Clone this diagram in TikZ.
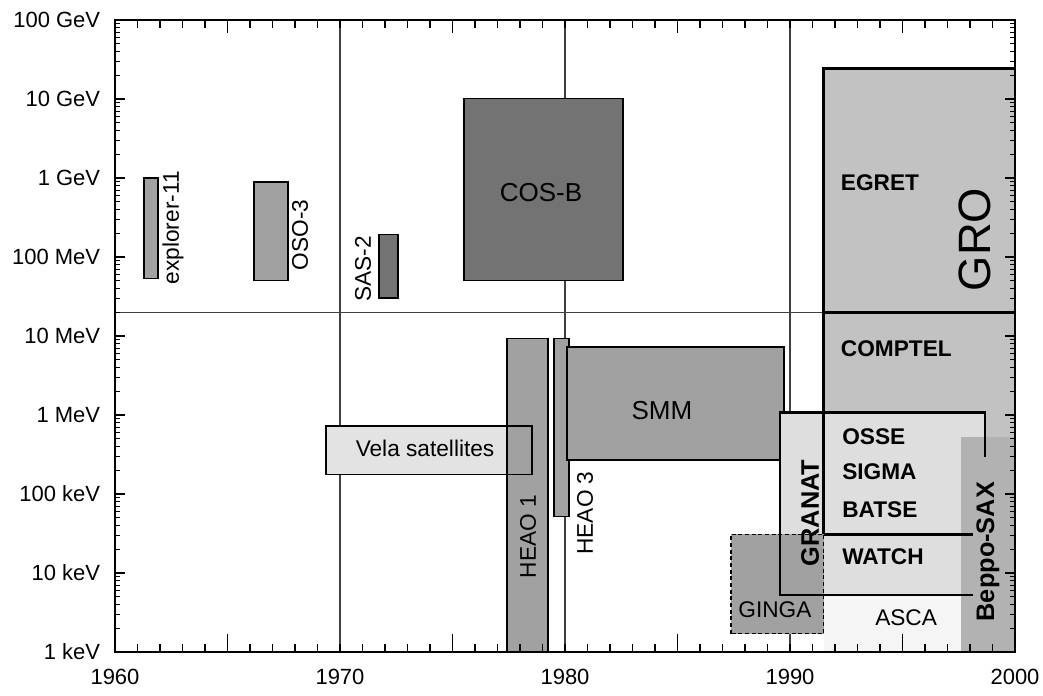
\documentclass[tikz,border=0pt]{standalone}
\usepackage{fontspec}
\setmainfont{Liberation Sans}
\usepackage{tikz}

\definecolor{dark}{gray}{0.45}
\definecolor{mid}{gray}{0.63}
\definecolor{gro}{gray}{0.76}
\definecolor{sax}{gray}{0.70}
\definecolor{pale}{gray}{0.87}
\definecolor{vela}{gray}{0.89}
\definecolor{asca}{gray}{0.96}
\definecolor{gridgray}{gray}{0.25}

\begin{document}
\begin{tikzpicture}[x=16.875pt,y=59.25pt,
  box/.style={draw=black,line width=0.9pt},
  heavy/.style={draw=black,line width=2pt},
  ticklab/.style={font=\fontsize{16.5}{18}\selectfont},
  missname/.style={font=\fontsize{17}{19}\selectfont},
  bigmiss/.style={font=\fontsize{19.5}{21}\selectfont},
  boldmiss/.style={font=\fontsize{19}{21}\selectfont\bfseries,rotate=90},
  instr/.style={font=\fontsize{17}{19}\selectfont\bfseries,anchor=west,inner sep=0pt}]
\useasboundingbox (-5.111,-0.557) rectangle (41.244,8.253);

\coordinate (o) at (0,0);
\coordinate (tl) at (0,8);
\coordinate (br) at (40,0);
\coordinate (tr) at (40,8);

% mission boxes
\coordinate (exp1) at (1.29,4.73);   \coordinate (exp2) at (1.91,6.0);
\coordinate (oso1) at (6.18,4.70);   \coordinate (oso2) at (7.69,5.95);
\coordinate (sas1) at (11.73,4.48);  \coordinate (sas2) at (12.58,5.28);
\coordinate (cos1) at (15.51,4.70);  \coordinate (cos2) at (22.58,7.01);
\coordinate (vela1) at (9.38,2.25);  \coordinate (vela2) at (18.53,2.86);
\coordinate (hea1) at (17.42,0);     \coordinate (hea2) at (19.24,3.97);
\coordinate (heb1) at (19.51,1.71);  \coordinate (heb2) at (20.18,3.97);
\coordinate (smm1) at (20.09,2.43);  \coordinate (smm2) at (29.73,3.86);
\coordinate (gro1) at (31.5,0);      \coordinate (gro2) at (40,7.39);
\coordinate (gra1) at (29.56,0.72);  \coordinate (gra2) at (38.67,3.03);
\coordinate (gin1) at (27.38,0.23);  \coordinate (gin2) at (31.5,1.49);
\coordinate (sax1) at (37.6,0);      \coordinate (sax2) at (40,2.72);
\coordinate (asc1) at (31.5,0);      \coordinate (asc2) at (37.6,0.72);

% grid
\foreach \t in {10,20,30}
\draw[gridgray,line width=0.9pt] (\t,0)--(\t,8);
\draw[gridgray,line width=0.9pt] (0,4.30)--(40,4.30);

\fill[gro] (gro1) rectangle (gro2);
\draw[box,fill=mid] (exp1) rectangle (exp2);
\draw[box,fill=mid] (oso1) rectangle (oso2);
\draw[box,fill=dark] (sas1) rectangle (sas2);
\draw[box,fill=dark] (cos1) rectangle (cos2);
\fill[vela] (vela1) rectangle (vela2);
\draw[box,fill=mid] (hea1) rectangle (hea2);
\draw[box] (vela1) rectangle (vela2);
\draw[box,fill=mid] (heb1) rectangle (heb2);
\draw[box,fill=mid] (smm1) rectangle (smm2);
\fill[pale] (gra1) rectangle (gra2);
\fill[asca] (asc1) rectangle (asc2);
\fill[mid] (gin1) rectangle (gin2);
\fill[sax] (sax1) rectangle (sax2);

% GRO and GRANAT outlines
\draw[heavy] (31.5,1.49)--(31.5,7.39)--(40,7.39);
\draw[heavy] (31.5,4.30)--(40,4.30);
\draw[heavy] (38.13,0.72)--(29.56,0.72)--(29.56,3.03)--(38.67,3.03)--(38.67,2.47);
\draw[heavy] (31.5,1.49)--(38.13,1.49);
\draw[box,dash pattern=on 3pt off 2pt] (gin1) rectangle (gin2);

% frame and ticks
\draw[line width=1.5pt] (tl)--(o)--(br)--(tr)--cycle;
\foreach \t in {1,...,39}{
  \draw[line width=0.9pt] (\t,0)--++(0,6pt);
  \draw[line width=0.9pt] (\t,8)--++(0,-6pt);
}
\foreach \t in {5,15,25,35}{
  \draw[line width=0.9pt] (\t,0)--++(0,13.5pt);
  \draw[line width=0.9pt] (\t,8)--++(0,-10pt);
}
\foreach \d in {0,...,7}{
  \draw[line width=0.9pt] (0,\d)--++(7.5pt,0);
  \draw[line width=0.9pt] (40,\d)--++(-7.5pt,0);
  \foreach \k in {2,...,9}{
    \draw[line width=0.7pt] (0,{\d+log10(\k)})--++(3.75pt,0);
    \draw[line width=0.7pt] (40,{\d+log10(\k)})--++(-3.75pt,0);
  }
}

% axis labels
\foreach \d/\lab in {0/1 keV,1/10 keV,2/100 keV,3/1 MeV,4/10 MeV,5/100 MeV,6/1 GeV,7/10 GeV,8/100 GeV}
\node[ticklab,anchor=east] (e\d) at (-0.45,\d) {\lab};
\foreach \t/\lab in {0/1960,10/1970,20/1980,30/1990,40/2000}
\node[ticklab] (y\t) at (\t,-0.32) {\lab};

% mission names
\node[missname,rotate=90] (explorer) at (2.58,5.37) {explorer-11};
\node[missname,rotate=90] (oso) at (8.22,5.28) {OSO-3};
\node[missname,rotate=90] (sas) at (11.02,4.85) {SAS-2};
\node[bigmiss] (cosb) at (18.93,5.81) {COS-B};
\node[missname] (velasat) at (13.78,2.58) {Vela satellites};
\node[missname,rotate=90] (heaoa) at (18.36,1.46) {HEAO 1};
\node[missname,rotate=90] (heaoc) at (20.89,1.76) {HEAO 3};
\node[bigmiss] (smm) at (24.31,3.06) {SMM};
\node[font=\fontsize{34}{36}\selectfont,rotate=90] (gro) at (38.22,5.22) {GRO};
\node[instr] (egret) at (32.25,5.94) {EGRET};
\node[instr] (comptel) at (32.25,3.84) {COMPTEL};
\node[instr] (osse) at (32.31,2.73) {OSSE};
\node[instr] (sigma) at (32.31,2.28) {SIGMA};
\node[instr] (batse) at (32.31,1.80) {BATSE};
\node[instr] (watch) at (32.31,1.20) {WATCH};
\node[boldmiss] (granat) at (30.89,1.76) {GRANAT};
\node[boldmiss] (beppo) at (38.8,1.27) {Beppo-SAX};
\node[missname] (ginga) at (29.33,0.53) {GINGA};
\node[missname] (ascalab) at (35.16,0.44) {ASCA};
\end{tikzpicture}
\end{document}
